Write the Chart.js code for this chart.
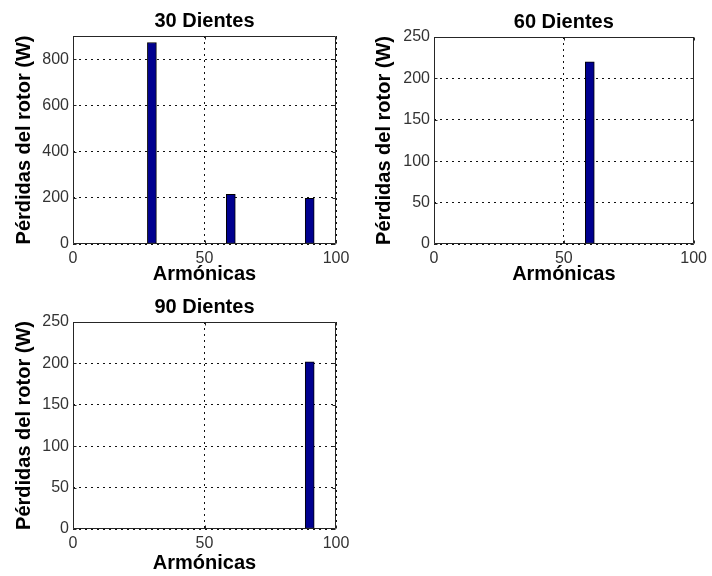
<!DOCTYPE html>
<html>
<head>
<meta charset="utf-8">
<script src="https://cdn.jsdelivr.net/npm/chart.js@4.4.0/dist/chart.umd.min.js"></script>
<style>
  html, body { margin: 0; padding: 0; background: #fff; }
  #wrap { position: relative; width: 712px; height: 576px; overflow: hidden; background: #fff; }
  canvas { position: absolute; }
</style>
</head>
<body>
<div id="wrap">
  <canvas id="c30" width="356" height="290" style="left:0;top:0"></canvas>
  <canvas id="c60" width="352" height="290" style="left:360px;top:0"></canvas>
  <canvas id="c90" width="356" height="286" style="left:0;top:290px"></canvas>
</div>
<script>
// Pérdidas del rotor por armónico, tres rotores distintos

const X_TICKS = [0, 50, 100];

// 30 dientes
const ARM_30 = [30, 60, 90];
const PERD_30 = [872, 215, 198];
const Y_TICKS_30 = [0, 200, 400, 600, 800];

// 60 dientes
const ARM_60 = [60];
const PERD_60 = [220];
const Y_TICKS_60 = [0, 50, 100, 150, 200, 250];

// 90 dientes
const ARM_90 = [90];
const PERD_90 = [202];
const Y_TICKS_90 = [0, 50, 100, 150, 200, 250];

const FONT = "'Liberation Sans', Arial, Helvetica, sans-serif";
const BAR_FILL = '#00008f';

// caja estilo MATLAB con marcas hacia dentro
const boxPlugin = {
  id: 'matlabBox',
  afterDatasetsDraw(chart) {
    const { ctx, chartArea: a, scales: { x, y } } = chart;
    const l = Math.round(a.left) + 0.5, r = Math.round(a.right) - 0.5;
    const t = Math.round(a.top) + 0.5, b = Math.round(a.bottom) - 0.5;
    const tl = 3;
    ctx.save();
    ctx.strokeStyle = '#262626';
    ctx.lineWidth = 1;
    ctx.beginPath();
    ctx.rect(l, t, r - l, b - t);
    x.ticks.forEach(tk => {
      const px = Math.round(x.getPixelForValue(tk.value)) + 0.5;
      ctx.moveTo(px, b); ctx.lineTo(px, b - tl);
      ctx.moveTo(px, t); ctx.lineTo(px, t + tl);
    });
    y.ticks.forEach(tk => {
      const py = Math.round(y.getPixelForValue(tk.value)) + 0.5;
      ctx.moveTo(l, py); ctx.lineTo(l + tl, py);
      ctx.moveTo(r, py); ctx.lineTo(r - tl, py);
    });
    ctx.stroke();
    ctx.restore();
  }
};

function makeChart(id, title, xs, ys, yTicks, yMax, lay) {
  return new Chart(document.getElementById(id), {
    type: 'bar',
    data: {
      datasets: [{
        data: xs.map((v, i) => ({ x: v, y: ys[i] })),
        backgroundColor: BAR_FILL,
        borderColor: '#000',
        borderWidth: 1,
        borderSkipped: false,
        barThickness: 9,
      }],
    },
    options: {
      responsive: false,
      animation: false,
      layout: { padding: { left: 0, right: lay.pr, top: 0, bottom: 0 } },
      plugins: {
        legend: { display: false },
        tooltip: { enabled: false },
        title: {
          display: true,
          text: title,
          fullSize: false,
          color: '#000',
          font: { family: FONT, size: 20, weight: 'bold' },
          padding: { top: lay.tp, bottom: lay.tb },
        },
      },
      scales: {
        x: {
          type: 'linear',
          min: 0,
          max: 100,
          offset: false,
          afterBuildTicks: s => { s.ticks = X_TICKS.map(v => ({ value: v })); },
          afterFit: s => { s.height = lay.xh; },
          grid: { color: '#111', lineWidth: 1, drawTicks: false, offset: false },
          border: { display: false, dash: [2, 4] },
          ticks: { color: '#333', font: { family: FONT, size: 16 }, padding: 5, maxRotation: 0, autoSkip: false },
          title: {
            display: true,
            text: 'Armónicas',
            color: '#000',
            font: { family: FONT, size: 20, weight: 'bold' },
            padding: { top: 0, bottom: lay.xtp },
          },
        },
        y: {
          type: 'linear',
          min: 0,
          max: yMax,
          afterBuildTicks: s => { s.ticks = yTicks.map(v => ({ value: v })); },
          afterFit: s => { s.width = lay.yw; },
          grid: { color: '#111', lineWidth: 1, drawTicks: false },
          border: { display: false, dash: [2, 4] },
          ticks: { color: '#333', font: { family: FONT, size: 16 }, padding: 4, autoSkip: false },
          title: {
            display: true,
            text: 'Pérdidas del rotor (W)',
            color: '#000',
            font: { family: FONT, size: 20, weight: 'bold' },
            padding: { top: 12, bottom: 0 },
          },
        },
      },
    },
    plugins: [boxPlugin],
  });
}

makeChart('c30', '30 Dientes', ARM_30, PERD_30, Y_TICKS_30, 900,
  { yw: 73, xh: 46, pr: 20, tp: 9, tb: 3, xtp: 4 });
makeChart('c60', '60 Dientes', ARM_60, PERD_60, Y_TICKS_60, 250,
  { yw: 74, xh: 46, pr: 14, tp: 10, tb: 3, xtp: 4 });
makeChart('c90', '90 Dientes', ARM_90, PERD_90, Y_TICKS_90, 250,
  { yw: 73, xh: 47, pr: 20, tp: 5, tb: 3, xtp: 1 });
</script>
</body>
</html>
